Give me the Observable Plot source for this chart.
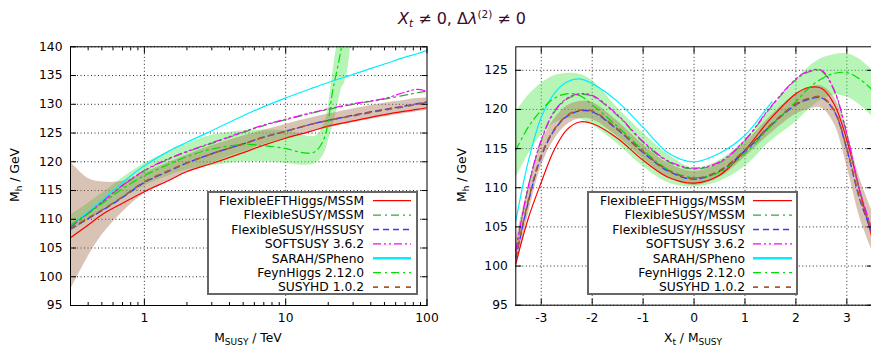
<!DOCTYPE html>
<html><head><meta charset="utf-8">
<script src="https://cdn.jsdelivr.net/npm/d3@7"></script>
<script src="https://cdn.jsdelivr.net/npm/@observablehq/plot@0.6"></script>
<style>
html,body{margin:0;padding:0;background:#fff;overflow:hidden;}
#wrap{position:relative;width:871px;height:348px;overflow:hidden;font-family:"DejaVu Sans",sans-serif;color:#000;}
.abs{position:absolute;}
#title{position:absolute;left:462px;top:18px;transform:translate(-50%,-50%);font-size:16px;color:#3d0b2b;white-space:nowrap;}
#title sub{font-size:10.5px;vertical-align:-3px;}
#title sup{font-size:10.5px;vertical-align:6px;}
.lab{position:absolute;font-size:12.3px;white-space:nowrap;transform:translate(-50%,-50%);}
.lab sub{font-size:9px;vertical-align:-3px;}
.ylab{transform:translate(-50%,-50%) rotate(-90deg);}
</style></head><body><div id="wrap"></div>
<script>
// ---------- series meta ----------
const seriesNames = ["FlexibleEFTHiggs/MSSM","FlexibleSUSY/MSSM","FlexibleSUSY/HSSUSY","SOFTSUSY 3.6.2","SARAH/SPheno","FeynHiggs 2.12.0","SUSYHD 1.0.2"];
const seriesColors = ["#ff0000","#33a833","#3a3aff","#ff00ff","#00eeff","#00dd00","#a65a32"];
const seriesDash = [null,"8,4,2,4","6,4","8,3,2,3,2,3",null,"8,4,2,4","5,6"];
const seriesWidth = [1.2,1.2,1.4,1.2,1.2,1.2,1.6];

// ---------- left panel: M_h vs M_SUSY ----------
const mLeft = [0.3,0.4,0.5,0.7,1,1.5,2,3,5,7,10,15,20,30,50,70,85,100];
const feftLeft   = [106.8,109.0,110.8,112.8,114.8,116.8,118.3,119.7,121.6,122.9,124.1,125.3,126.2,127.1,128.2,128.8,129.1,129.4];
const fsmssmLeft = [108.6,111.0,112.9,115.8,118.4,120.5,121.7,123.2,125.1,126.3,127.3,128.4,129.1,130.0,130.9,131.6,132.0,132.3];
const hssusyLeft = [108.3,110.1,111.5,113.8,116.4,118.4,119.8,121.4,123.1,124.3,125.3,126.5,127.2,128.1,129.1,129.7,130.1,130.4];
const softLeft   = [108.7,111.1,113.0,115.9,118.5,120.6,121.8,123.3,125.2,126.4,127.4,128.5,129.2,130.1,131.0,132.1,132.6,132.3];
const sarahLeft  = [108.9,111.3,113.3,116.4,119.3,121.9,123.4,125.4,128.0,129.6,131.1,132.7,133.8,135.2,137.0,138.2,138.8,139.4];
const susyhdLeft = [108.4,110.2,111.6,113.9,116.5,118.5,119.8,121.4,123.1,124.3,125.3,126.5,127.2,128.0,129.0,129.6,130.0,130.3];
const susyhdBandLoLeft = [97.7,103.5,107.2,111.2,114.5,116.6,118.1,119.8,121.7,123.0,124.0,125.2,125.9,126.8,127.8,128.4,128.7,128.9];
const susyhdBandHiLeft = [120.0,117.1,116.5,116.6,118.1,119.9,121.2,122.8,124.5,125.5,126.5,127.6,128.3,129.2,130.2,130.7,131.0,131.1];

const mFHLeft = [0.3,0.4,0.5,0.7,1,1.5,2,3,5,7,10,12,14,16,17.5,19,20,21,22,23,24,25,26];
const fhLeft  = [109.0,111.0,112.7,115.3,117.6,119.6,120.9,122.2,123.0,122.8,122.3,121.8,121.5,121.7,122.7,124.5,127.0,130.8,133.6,135.8,138.0,140.3,142.5];
const mFHBandLeft = [0.3,0.4,0.5,0.7,1,1.5,2,3,5,7,10,12,14,16,17.5,19,20,21,22,23,24,25,26,27,28,29,30];
const fhBandLoLeft = [107.8,109.8,111.3,113.5,115.8,117.6,118.6,119.3,120.0,120.0,119.7,119.5,119.4,119.6,120.3,121.7,123.6,125.3,127.0,129.0,131.2,132.9,133.6,135.0,137.3,140.6,143.0];
const fhBandHiLeft = [110.7,112.8,114.5,117.2,119.7,121.8,123.1,124.6,125.4,125.5,125.4,125.0,124.5,124.4,125.2,127.0,129.5,133.5,137.0,140.2,142.5,145.0,147.0,149.0,151.0,153.0,155.0];

const xMajorLeft = [0.3,1,10,100];
const xMinorLeft = [0.4,0.5,0.6,0.7,0.8,0.9,2,3,4,5,6,7,8,9,20,30,40,50,60,70,80,90];
const xGridLeft = [1,10];
const yTicksLeft = [95,100,105,110,115,120,125,130,135,140];

// ---------- right panel: M_h vs X_t/M_SUSY ----------
const xRight = [-3.5,-3.25,-3,-2.75,-2.5,-2.25,-2,-1.5,-1,-0.5,0,0.5,1,1.5,2,2.25,2.5,2.75,3,3.25,3.5];
const feftRight   = [100.3,106.2,110.7,114.8,117.4,118.4,118.2,116.3,113.5,111.3,110.6,111.6,114.8,118.8,122.0,122.8,122.7,120.7,116.1,109.7,103.5];
const fsmssmRight = [101.9,110.2,116.0,119.6,121.3,121.9,121.7,119.2,115.8,113.3,112.4,113.2,116.0,120.2,123.8,124.8,124.9,122.4,116.8,109.6,104.5];
const hssusyRight = [101.0,108.3,114.0,117.3,119.1,119.8,119.7,117.4,114.5,112.1,111.1,112.1,114.7,117.9,120.6,121.3,121.5,119.8,114.9,108.6,104.2];
const softRight   = [102.0,110.3,116.1,119.7,121.4,122.0,121.8,119.3,115.9,113.4,112.5,113.3,116.1,120.3,123.9,124.9,125.0,122.5,116.9,109.7,104.6];
const fhRight     = [114.8,117.8,119.9,121.4,122.0,121.8,120.6,117.8,114.8,112.3,111.3,112.0,114.4,117.8,121.0,122.7,123.9,124.6,124.7,123.9,122.5];
const susyhdRight = [101.2,108.5,114.2,117.4,119.2,119.9,119.8,117.5,114.6,112.2,111.2,112.2,114.8,118.0,120.7,121.4,121.6,119.9,115.0,108.8,104.4];
const fhBandLoRight = [111.2,114.3,116.7,118.2,118.8,118.8,118.0,115.6,112.7,110.6,110.1,110.8,112.7,115.9,118.4,120.0,121.2,121.8,121.6,120.6,119.1];
const fhBandHiRight = [119.6,121.8,123.3,124.3,124.6,124.5,123.7,120.2,117.0,114.2,112.5,113.5,116.1,119.9,123.7,125.4,126.5,127.0,127.1,126.4,125.0];
const susyhdBandLoRight = [99.2,106.7,112.7,116.1,118.0,118.8,118.7,116.5,113.7,111.3,110.3,111.3,113.9,116.9,119.4,120.0,120.2,118.2,112.8,106.3,101.9];
const susyhdBandHiRight = [103.2,110.3,115.7,118.7,120.4,121.0,120.9,118.5,115.5,113.1,112.1,113.1,115.7,119.1,122.0,122.8,123.0,121.6,117.2,111.3,106.9];
const xSarahRight = [-3.5,-3.25,-3,-2.75,-2.5,-2.25,-2,-1.5,-1,-0.5,0,0.5,1,1.5,1.53];
const sarahRight  = [105.8,113.5,119.0,122.0,123.5,123.9,123.3,121.0,117.7,114.4,113.3,114.4,116.7,120.75,120.95];

const xTicksRight = [-3,-2,-1,0,1,2,3];
const yTicksRight = [95,100,105,110,115,120,125];

// ---------- helpers ----------
const pts = (xs, ys) => xs.map((x, i) => ({x, y: ys[i]}));
const band = (xs, lo, hi) => xs.map((x, i) => ({x, lo: lo[i], hi: hi[i]}));
const gridStyle = {stroke: "#000", strokeOpacity: 0.85, strokeWidth: 1, strokeDasharray: "1,2.5"};
const noText = () => "";

function lineMarks(series) {
  return series.map((s, i) => s && Plot.line(s, {
    x: "x", y: "y", stroke: seriesColors[i], strokeWidth: seriesWidth[i],
    strokeDasharray: seriesDash[i], curve: "catmull-rom", clip: true
  })).filter(Boolean);
}

function bandMarks(fh, hd) {
  return [
    Plot.areaY(fh, {x: "x", y1: "lo", y2: "hi", fill: "#5fe85f", fillOpacity: 0.45, curve: "catmull-rom", clip: true}),
    Plot.areaY(hd, {x: "x", y1: "lo", y2: "hi", fill: "#a4704e", fillOpacity: 0.42, curve: "catmull-rom", clip: true})
  ];
}

const baseStyle = {fontFamily: "DejaVu Sans, sans-serif", fontSize: "12.3px", color: "#000", background: "transparent", overflow: "visible"};

const leftSeries = [
  pts(mLeft, feftLeft), pts(mLeft, fsmssmLeft), pts(mLeft, hssusyLeft), pts(mLeft, softLeft),
  pts(mLeft, sarahLeft), pts(mFHLeft, fhLeft), pts(mLeft, susyhdLeft)
];

const leftPlot = Plot.plot({
  width: 440, height: 348,
  marginLeft: 70, marginRight: 13.5, marginTop: 46.3, marginBottom: 43,
  style: baseStyle,
  x: {type: "log", domain: [0.3, 100]},
  y: {domain: [95, 140]},
  marks: [
    Plot.gridX(xGridLeft, gridStyle),
    Plot.gridY(yTicksLeft, gridStyle),
    ...bandMarks(band(mFHBandLeft, fhBandLoLeft, fhBandHiLeft), band(mLeft, susyhdBandLoLeft, susyhdBandHiLeft)),
    ...lineMarks(leftSeries),
    Plot.axisX(xMajorLeft, {anchor: "bottom", tickSize: 0, tickPadding: 8, tickFormat: d => String(d), label: null}),
    Plot.axisX(xMajorLeft, {anchor: "bottom", tickSize: 6, dy: -6, tickFormat: noText, label: null}),
    Plot.axisX(xMinorLeft, {anchor: "bottom", tickSize: 3, dy: -3, tickFormat: noText, label: null}),
    Plot.axisX(xMajorLeft, {anchor: "top", tickSize: 6, dy: 6, tickFormat: noText, label: null}),
    Plot.axisX(xMinorLeft, {anchor: "top", tickSize: 3, dy: 3, tickFormat: noText, label: null}),
    Plot.axisY(yTicksLeft, {anchor: "left", tickSize: 0, tickPadding: 8, tickFormat: d => String(d), label: null}),
    Plot.axisY(yTicksLeft, {anchor: "left", tickSize: 6, dx: 6, tickFormat: noText, label: null}),
    Plot.axisY(yTicksLeft, {anchor: "right", tickSize: 6, dx: -6, tickFormat: noText, label: null}),
    Plot.frame({stroke: "#000", strokeWidth: 1})
  ]
});

const rightSeries = [
  pts(xRight, feftRight), pts(xRight, fsmssmRight), pts(xRight, hssusyRight), pts(xRight, softRight),
  pts(xSarahRight, sarahRight), pts(xRight, fhRight), pts(xRight, susyhdRight)
];

const rightPlot = Plot.plot({
  width: 440, height: 348,
  marginLeft: 75.3, marginRight: 8.2, marginTop: 46.3, marginBottom: 43.3,
  style: baseStyle,
  x: {domain: [-3.5, 3.5]},
  y: {domain: [95, 128]},
  marks: [
    Plot.gridX(xTicksRight, gridStyle),
    Plot.gridY(yTicksRight, gridStyle),
    ...bandMarks(band(xRight, fhBandLoRight, fhBandHiRight), band(xRight, susyhdBandLoRight, susyhdBandHiRight)),
    ...lineMarks(rightSeries),
    Plot.axisX(xTicksRight, {anchor: "bottom", tickSize: 0, tickPadding: 8, tickFormat: d => String(d), label: null}),
    Plot.axisX(xTicksRight, {anchor: "bottom", tickSize: 6, dy: -6, tickFormat: noText, label: null}),
    Plot.axisX(xTicksRight, {anchor: "top", tickSize: 6, dy: 6, tickFormat: noText, label: null}),
    Plot.axisY(yTicksRight, {anchor: "left", tickSize: 0, tickPadding: 8, tickFormat: d => String(d), label: null}),
    Plot.axisY(yTicksRight, {anchor: "left", tickSize: 6, dx: 6, tickFormat: noText, label: null}),
    Plot.axisY(yTicksRight, {anchor: "right", tickSize: 6, dx: -6, tickFormat: noText, label: null}),
    Plot.frame({stroke: "#000", strokeWidth: 1})
  ]
});

// ---------- assemble ----------
const wrap = document.getElementById("wrap");
leftPlot.classList.add("abs"); leftPlot.style.left = "0px"; leftPlot.style.top = "0px";
rightPlot.classList.add("abs"); rightPlot.style.left = "440px"; rightPlot.style.top = "0px";
wrap.appendChild(leftPlot);
wrap.appendChild(rightPlot);

wrap.insertAdjacentHTML("beforeend", `
<div id="title"><i>X</i><sub><i>t</i></sub> ≠ 0, Δ<i>λ</i><sup>(2)</sup> ≠ 0</div>
<div class="lab ylab" style="left:16px;top:175px">M<sub>h</sub> / GeV</div>
<div class="lab ylab" style="left:463px;top:175px">M<sub>h</sub> / GeV</div>
<div class="lab" style="left:248px;top:339px">M<sub>SUSY</sub> / TeV</div>
<div class="lab" style="left:693px;top:339px">X<sub>t</sub> / M<sub>SUSY</sub></div>
`);

function legend(box) {
  const svg = d3.select(wrap).append("svg").attr("class", "abs")
    .style("left", box.left + "px").style("top", box.top + "px")
    .attr("width", box.w).attr("height", box.h);
  svg.append("rect").attr("x", 1).attr("y", 1).attr("width", box.w - 2).attr("height", box.h - 2)
    .attr("fill", "#fff").attr("stroke", "#666").attr("stroke-width", 2);
  seriesNames.forEach((name, i) => {
    const cy = 9.7 + i * 14.4;
    svg.append("text").attr("x", box.textRight).attr("y", cy).attr("dy", "0.35em")
      .attr("text-anchor", "end").attr("font-family", "DejaVu Sans, sans-serif")
      .attr("font-size", 12.3).attr("fill", "#000").text(name);
    svg.append("line").attr("x1", box.x1).attr("x2", box.x2).attr("y1", cy).attr("y2", cy)
      .attr("stroke", seriesColors[i]).attr("stroke-width", i === 4 ? 2.4 : seriesWidth[i])
      .attr("stroke-dasharray", seriesDash[i]);
  });
}
legend({left: 207, top: 191, w: 211, h: 104, textRight: 157, x1: 166, x2: 204});
legend({left: 587, top: 191, w: 211, h: 104, textRight: 158, x1: 166, x2: 205});
</script>
</body></html>
